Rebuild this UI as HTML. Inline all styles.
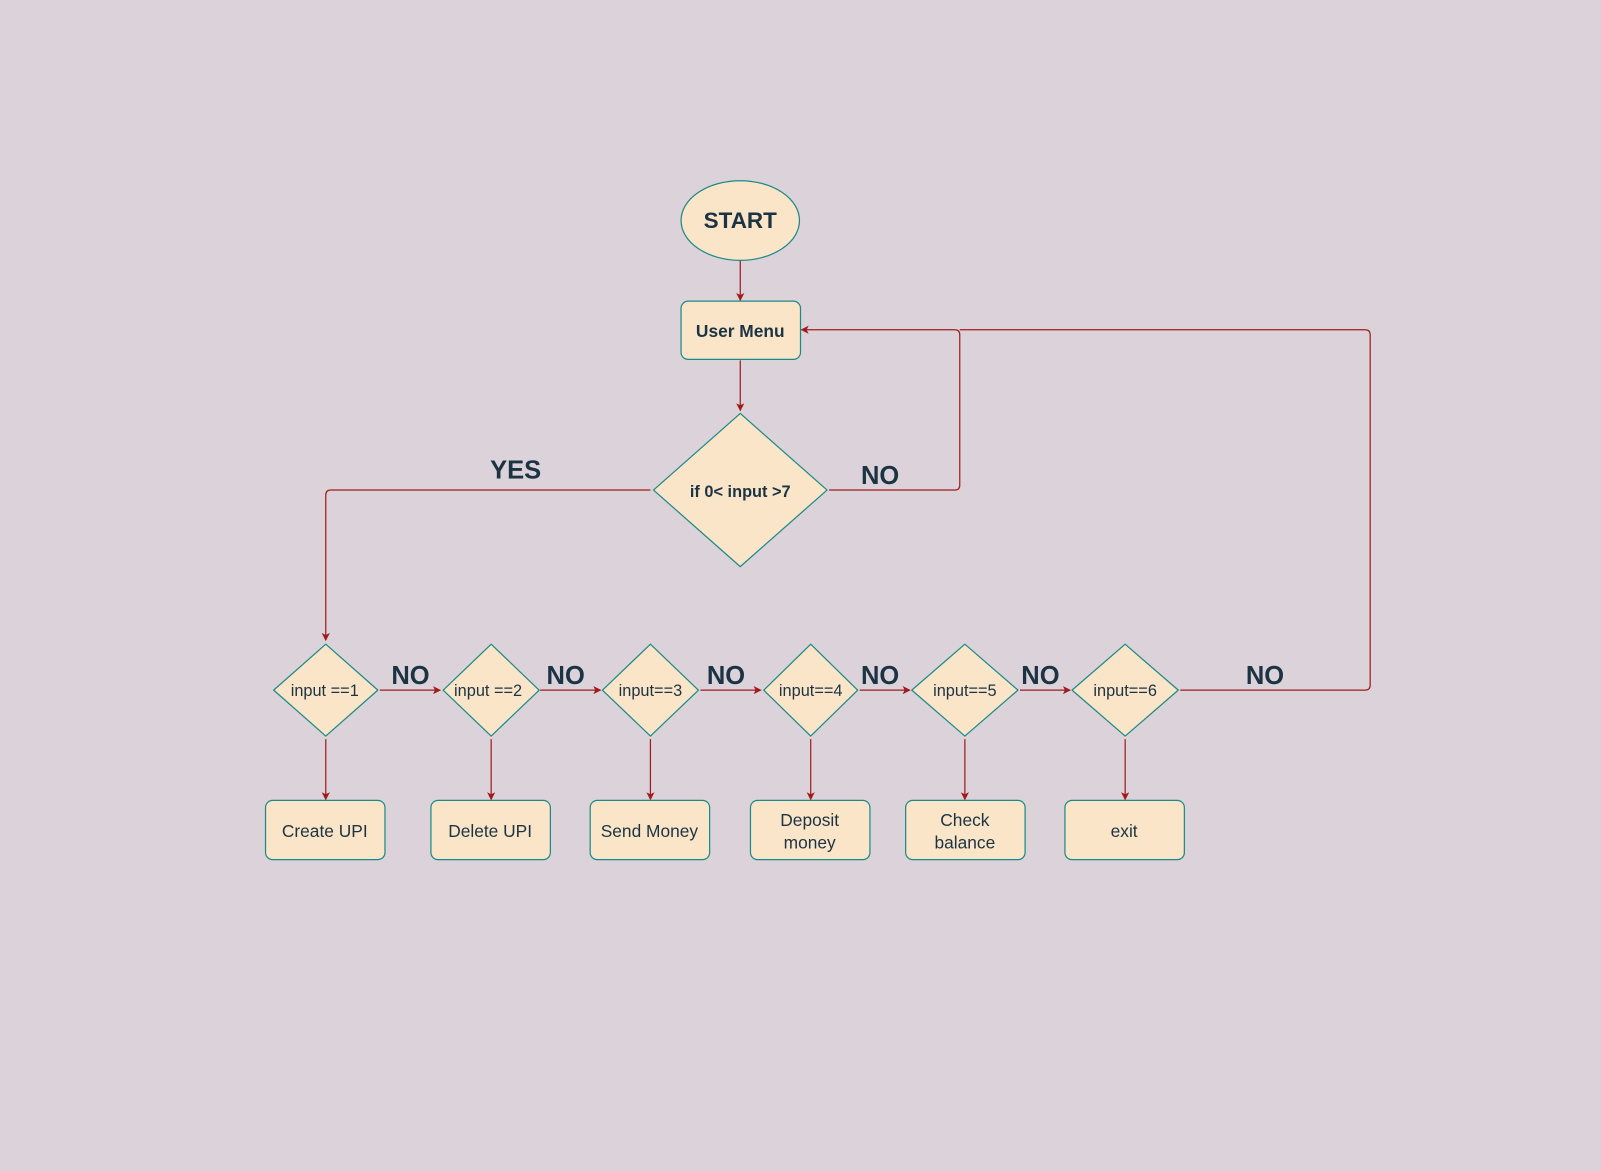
<!DOCTYPE html>
<html><head><meta charset="utf-8"><style>
html,body{margin:0;padding:0;background:#dbd2da;}
svg{display:block}
text{font-family:"Liberation Sans",sans-serif;fill:#1b3343;text-anchor:middle;dominant-baseline:central}
.b{font-weight:bold}
</style></head><body>
<svg width="1601" height="1171" viewBox="0 0 1568 1147" xmlns="http://www.w3.org/2000/svg">
<defs><marker id="a" markerWidth="8" markerHeight="8" refX="7" refY="4" orient="auto" markerUnits="userSpaceOnUse"><path d="M0,0 L8,4 L0,8 L2,4 Z" fill="#a01c1c"/></marker></defs>
<rect width="1568" height="1147" fill="#dbd2da"/>
<g fill="none" stroke="#a01c1c" stroke-width="1.2">
<path d="M725,255 V294" marker-end="url(#a)"/>
<path d="M725,353 V402" marker-end="url(#a)"/>
<path d="M637,480 H324 Q319,480 319,485 V627" marker-end="url(#a)"/>
<path d="M812,480 H935 Q940,480 940,475 V328 Q940,323 935,323 H785" marker-end="url(#a)"/>
<path d="M1156,676 H1337 Q1342,676 1342,671 V328 Q1342,323 1337,323 H940"/>
<path d="M372,676 H431" marker-end="url(#a)"/>
<path d="M529,676 H588" marker-end="url(#a)"/>
<path d="M686,676 H745" marker-end="url(#a)"/>
<path d="M842,676 H891" marker-end="url(#a)"/>
<path d="M999,676 H1048" marker-end="url(#a)"/>
<path d="M319,724 V783" marker-end="url(#a)"/>
<path d="M481,724 V783" marker-end="url(#a)"/>
<path d="M637,724 V783" marker-end="url(#a)"/>
<path d="M794,724 V783" marker-end="url(#a)"/>
<path d="M945,724 V783" marker-end="url(#a)"/>
<path d="M1102,724 V783" marker-end="url(#a)"/>
</g>
<g fill="#fae5c8" stroke="#1a8a87" stroke-width="1.2" stroke-linejoin="round">
<ellipse cx="725" cy="216" rx="58" ry="39"/>
<rect x="667" y="295" width="117" height="57" rx="7"/>
<path d="M725,405 L810,480 L725,555 L640,480 Z"/>
<path d="M319,631 L370,676 L319,721 L268,676 Z"/>
<path d="M481,631 L528,676 L481,721 L434,676 Z"/>
<path d="M637,631 L684,676 L637,721 L590,676 Z"/>
<path d="M794,631 L840,676 L794,721 L748,676 Z"/>
<path d="M945,631 L997,676 L945,721 L893,676 Z"/>
<path d="M1102,631 L1154,676 L1102,721 L1050,676 Z"/>
<rect x="260" y="784" width="117" height="58" rx="7"/>
<rect x="422" y="784" width="117" height="58" rx="7"/>
<rect x="578" y="784" width="117" height="58" rx="7"/>
<rect x="735" y="784" width="117" height="58" rx="7"/>
<rect x="887" y="784" width="117" height="58" rx="7"/>
<rect x="1043" y="784" width="117" height="58" rx="7"/>
</g>
<text x="725" y="216" class="b" font-size="22">START</text>
<text x="725" y="324" class="b" font-size="17">User Menu</text>
<text x="725" y="482" class="b" font-size="16">if 0&lt; input &gt;7</text>
<text x="318" y="677" font-size="16">input ==1</text>
<text x="478" y="677" font-size="16">input ==2</text>
<text x="637" y="677" font-size="16">input==3</text>
<text x="794" y="677" font-size="16">input==4</text>
<text x="945" y="677" font-size="16">input==5</text>
<text x="1102" y="677" font-size="16">input==6</text>
<text x="318" y="814" font-size="17">Create UPI</text>
<text x="480" y="814" font-size="17">Delete UPI</text>
<text x="636" y="814" font-size="17">Send Money</text>
<text x="793" y="803" font-size="17">Deposit</text>
<text x="793" y="825" font-size="17">money</text>
<text x="945" y="803" font-size="17">Check</text>
<text x="945" y="825" font-size="17">balance</text>
<text x="1101" y="814" font-size="17">exit</text>
<g class="b" font-size="25">
<text x="505" y="461" class="b">YES</text>
<text x="862" y="466" class="b">NO</text>
<text x="402" y="662" class="b">NO</text>
<text x="554" y="662" class="b">NO</text>
<text x="711" y="662" class="b">NO</text>
<text x="862" y="662" class="b">NO</text>
<text x="1019" y="662" class="b">NO</text>
<text x="1239" y="662" class="b">NO</text>
</g>
</svg>
</body></html>
